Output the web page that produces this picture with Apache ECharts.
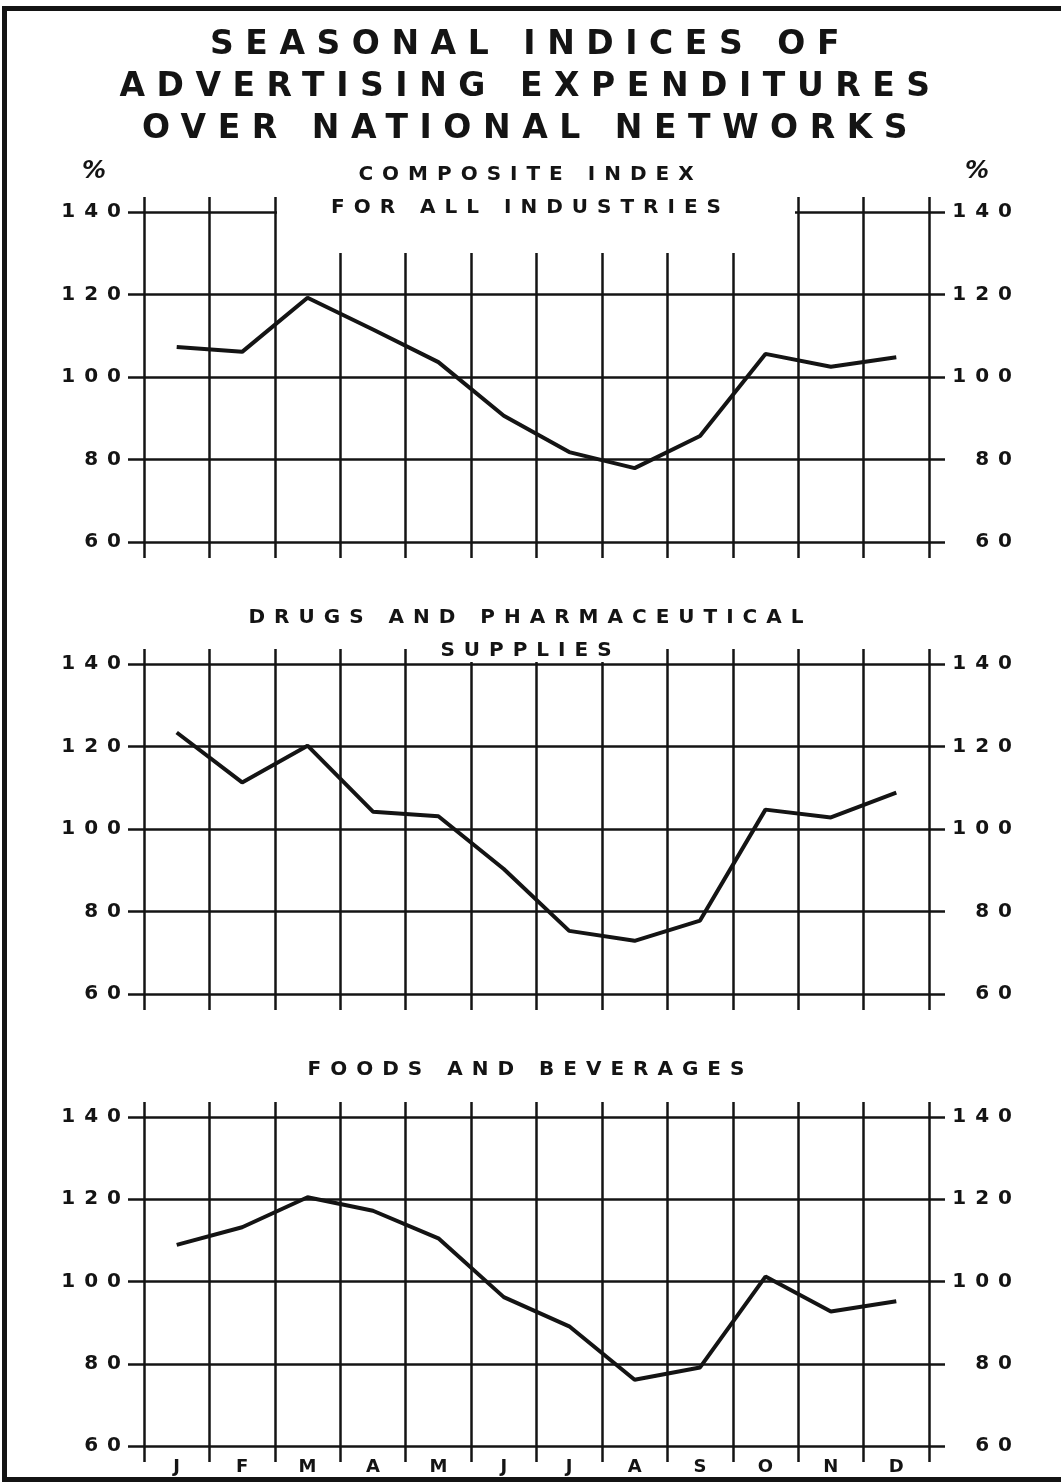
<!DOCTYPE html>
<html><head><meta charset="utf-8">
<script src="https://cdn.jsdelivr.net/npm/echarts@6/dist/echarts.min.js"></script>
<style>html,body{margin:0;padding:0;background:#fff}#c{width:1061px;height:1483px}</style>
</head><body><div id="c"></div>
<script>
// ---- data ----
const months = ['J','F','M','A','M','J','J','A','S','O','N','D'];
const composite = [107.3,106.1,119.2,111.5,103.6,90.6,81.8,77.9,85.7,105.6,102.5,104.8];
const drugs     = [123.4,111.3,120.2,104.2,103.1,90.3,75.3,72.9,77.8,104.7,102.8,108.8];
const foods     = [108.9,113.2,120.5,117.2,110.5,96.2,89.1,76.1,79.1,101.2,92.7,95.2];
const yMin = 60, yMax = 140, yStep = 20;
const mainTitle = 'SEASONAL INDICES OF\nADVERTISING EXPENDITURES\nOVER NATIONAL NETWORKS';
const panelTitles = ['COMPOSITE INDEX\nFOR ALL INDUSTRIES', 'DRUGS AND PHARMACEUTICAL\nSUPPLIES', 'FOODS AND BEVERAGES'];
const unitLabel = '%';

// ---- hand-lettered wide spacing (per font size) ----
(function(){
  const P = CanvasRenderingContext2D.prototype;
  if (!('letterSpacing' in P)) return;
  const SP = {33:0.35, 20:0.45};
  function set(ctx){
    const m = /(\d+(?:\.\d+)?)px/.exec(ctx.font || '');
    const s = m ? parseFloat(m[1]) : 12;
    const r = SP[Math.round(s)] || 0;
    ctx.letterSpacing = (s * r).toFixed(2) + 'px';
  }
  const ft = P.fillText; P.fillText = function(){ set(this); return ft.apply(this, arguments); };
  const st = P.strokeText; P.strokeText = function(){ set(this); return st.apply(this, arguments); };
  const mt = P.measureText; P.measureText = function(){ set(this); return mt.apply(this, arguments); };
})();

const ink = '#141414';
const FF = '"DejaVu Sans", sans-serif';
const seriesData = [composite, drugs, foods];
const grids = [
  {left:144, right:132, top:212, height:330},
  {left:144, right:132, top:664, height:330},
  {left:144, right:132, top:1117, height:329}
];
const lineSty = {color: ink, width: 2.5};
const xAxes = [], yAxes = [], series = [];
for (let i = 0; i < 3; i++) {
  xAxes.push({gridIndex:i, type:'category', data:months, boundaryGap:true, position:'bottom',
    axisLine:{show:false},
    axisTick:{show:true, length:16, interval:0, lineStyle:lineSty},
    axisLabel:{show:i===2, interval:0, margin:12, fontSize:18, fontWeight:'bold', color:ink, fontFamily:FF},
    splitLine:{show:true, interval:0, lineStyle:lineSty}});
}
for (let i = 0; i < 3; i++) {
  xAxes.push({gridIndex:i, type:'category', data:months, boundaryGap:true, position:'top',
    axisLine:{show:false},
    axisTick:{show:true, length:15, interval:0, lineStyle:lineSty},
    axisLabel:{show:false}, splitLine:{show:false}});
}
for (let i = 0; i < 3; i++) {
  yAxes.push({gridIndex:i, type:'value', min:yMin, max:yMax, interval:yStep, position:'left',
    axisLine:{show:false},
    axisTick:{show:true, length:16, lineStyle:lineSty},
    axisLabel:{margin:14, fontSize:20, fontWeight:'bold', color:ink, fontFamily:FF},
    splitLine:{show:true, lineStyle:lineSty},
    name: i===0 ? unitLabel : '', nameLocation:'end', nameGap:28,
    nameTextStyle:{fontSize:24, fontWeight:'bold', fontStyle:'italic', color:ink, fontFamily:FF, align:'right', padding:[0,38,0,0]}});
}
for (let i = 0; i < 3; i++) {
  yAxes.push({gridIndex:i, type:'value', min:yMin, max:yMax, interval:yStep, position:'right',
    axisLine:{show:false},
    axisTick:{show:true, length:16, lineStyle:lineSty},
    axisLabel:{margin:92, align:'right', fontSize:20, fontWeight:'bold', color:ink, fontFamily:FF},
    splitLine:{show:false},
    name: i===0 ? unitLabel : '', nameLocation:'end', nameGap:28,
    nameTextStyle:{fontSize:24, fontWeight:'bold', fontStyle:'italic', color:ink, fontFamily:FF, align:'left', padding:[0,0,0,36]}});
}
for (let i = 0; i < 3; i++) {
  series.push({type:'line', xAxisIndex:i, yAxisIndex:i, data:seriesData[i], symbol:'none',
    lineStyle:{color:ink, width:4}, z:5});
}
const titleTops = [153, 596, 1048];
const titles = [{text:mainTitle, left:'center', top:19, z:10,
  textStyle:{fontFamily:FF, fontSize:33, fontWeight:'bold', lineHeight:42, color:ink}}];
for (let i = 0; i < 3; i++) {
  titles.push({text:panelTitles[i], left:'center', top:titleTops[i], z:10,
    textStyle:{fontFamily:FF, fontSize:20, fontWeight:'bold', lineHeight:33, color:ink}});
}
const chart = echarts.init(document.getElementById('c'), null, {renderer:'canvas'});
chart.setOption({
  backgroundColor:'#ffffff',
  animation:false,
  title: titles,
  grid: grids,
  xAxis: xAxes,
  yAxis: yAxes,
  series: series,
  graphic: [
    {type:'rect', z:1, shape:{x:277, y:185, width:518, height:68}, style:{fill:'#ffffff'}},
    {type:'rect', z:1, shape:{x:408, y:638, width:258, height:24}, style:{fill:'#ffffff'}},
    {type:'rect', z:1, shape:{x:4.5, y:8.5, width:1100, height:1471}, style:{fill:null, stroke:ink, lineWidth:5}}
  ]
});
</script>
</body></html>
